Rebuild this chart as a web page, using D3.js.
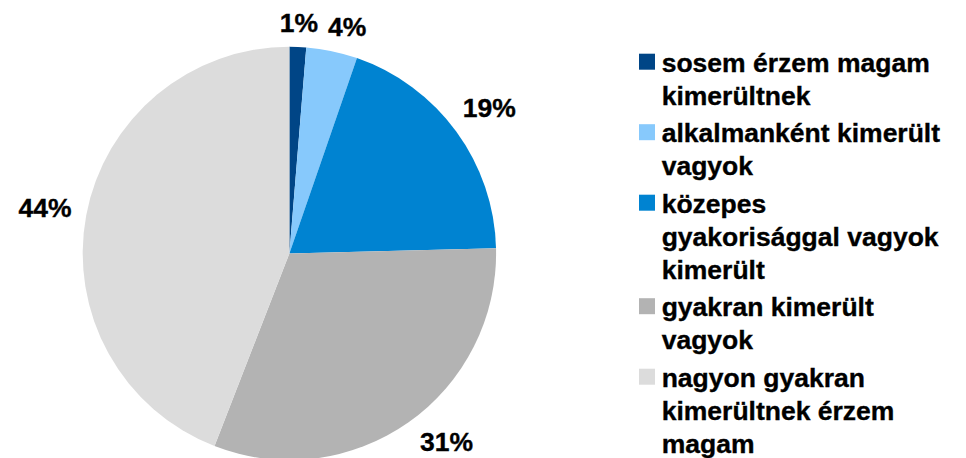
<!DOCTYPE html>
<html>
<head>
<meta charset="utf-8">
<script src="https://d3js.org/d3.v7.min.js"></script>
<style>
  body { margin: 0; background: #ffffff; }
  svg { display: block; }
  text { font-family: "Liberation Sans", Arial, sans-serif; font-weight: bold; fill: #000; stroke: #000; stroke-width: 0.35px; }
</style>
</head>
<body>
<script>
// data
var categories = [
  "sosem érzem magam kimerültnek",
  "alkalmanként kimerült vagyok",
  "közepes gyakorisággal vagyok kimerült",
  "gyakran kimerült vagyok",
  "nagyon gyakran kimerültnek érzem magam"
];
var values = [1.3, 4.0, 19.3, 31.3, 44.1];
var colors = ["#004586", "#87c9fc", "#0083d1", "#b3b3b3", "#dcdcdc"];

var width = 966, height = 458;
var cx = 289.4, cy = 253.4, radius = 206.7;
var fontSize = 26.5;

var svg = d3.select("body").append("svg")
    .attr("width", width)
    .attr("height", height);

var pie = d3.pie().sort(null).value(function(d){ return d; });
var arc = d3.arc().innerRadius(0).outerRadius(radius);
var arcs = pie(values);

var g = svg.append("g").attr("transform", "translate(" + cx + "," + cy + ")");

g.selectAll("path.slice")
    .data(arcs)
    .enter().append("path")
    .attr("class", "slice")
    .attr("d", arc)
    .attr("fill", function(d, i){ return colors[i]; });

// percentage labels, placed just outside the pie edge
var gap = 14;
var capH = fontSize * 0.716;
var descent = fontSize * 0.22;
var boxes = [];

function place(a, w) {
    var s = Math.sin(a), c = -Math.cos(a);
    var r = radius + gap + Math.abs(s) * w / 2 + Math.abs(c) * capH / 2;
    var x = r * s, y = r * c;
    return {a: a, x: x, y: y, x0: x - w / 2, x1: x + w / 2, y0: y - capH / 2, y1: y + capH / 2};
}
function overlaps(b, o) {
    return b.x0 < o.x1 + 10 && b.x1 + 10 > o.x0 && b.y0 < o.y1 + 4 && b.y1 + 4 > o.y0;
}

g.selectAll("text.pct")
    .data(arcs)
    .enter().append("text")
    .attr("class", "pct")
    .style("font-size", fontSize + "px")
    .attr("text-anchor", "middle")
    .text(function(d){ return Math.round(d.data) + "%"; })
    .each(function(d){
        var w = this.getComputedTextLength();
        var a = (d.startAngle + d.endAngle) / 2;
        var b = place(a, w);
        var step = Math.PI / 900;
        // keep inside the picture: slide toward the horizontal
        var n = 0;
        while ((cy + b.y1 + descent > height - 1 || cy + b.y0 < 3) && n < 400) {
            var dir = (Math.cos(a) < 0) ? ((Math.sin(a) > 0) ? -1 : 1) : ((Math.sin(a) > 0) ? 1 : -1);
            a += dir * step;
            b = place(a, w);
            n++;
        }
        // avoid overlapping earlier labels: move clockwise
        n = 0;
        while (boxes.some(function(o){ return overlaps(b, o); }) && n < 400) {
            a += step;
            b = place(a, w);
            n++;
        }
        boxes.push(b);
        d3.select(this)
            .attr("x", b.x)
            .attr("y", b.y1);
    });

// legend
var legX = 639, textX = 661.7, wrapW = 284;
var lineH = 33, entryGap = 4.5;
var legend = svg.append("g").attr("class", "legend");
var baseline = 71.7;

categories.forEach(function(cat, i){
    var item = legend.append("g");
    var t = item.append("text")
        .style("font-size", fontSize + "px")
        .attr("x", textX)
        .attr("y", baseline);
    // simple word wrap
    var words = cat.split(" "), line = [], lines = [];
    var probe = item.append("text").style("font-size", fontSize + "px");
    words.forEach(function(w){
        var test = line.concat([w]).join(" ");
        probe.text(test);
        if (line.length && probe.node().getComputedTextLength() > wrapW) {
            lines.push(line.join(" "));
            line = [w];
        } else {
            line.push(w);
        }
    });
    lines.push(line.join(" "));
    probe.remove();

    lines.forEach(function(l, j){
        t.append("tspan")
            .attr("x", textX)
            .attr("y", baseline + j * lineH)
            .text(l);
    });

    item.append("rect")
        .attr("x", legX)
        .attr("y", baseline - 18)
        .attr("width", 16)
        .attr("height", 16)
        .attr("fill", colors[i]);

    baseline += lines.length * lineH + entryGap;
});
</script>
</body>
</html>
